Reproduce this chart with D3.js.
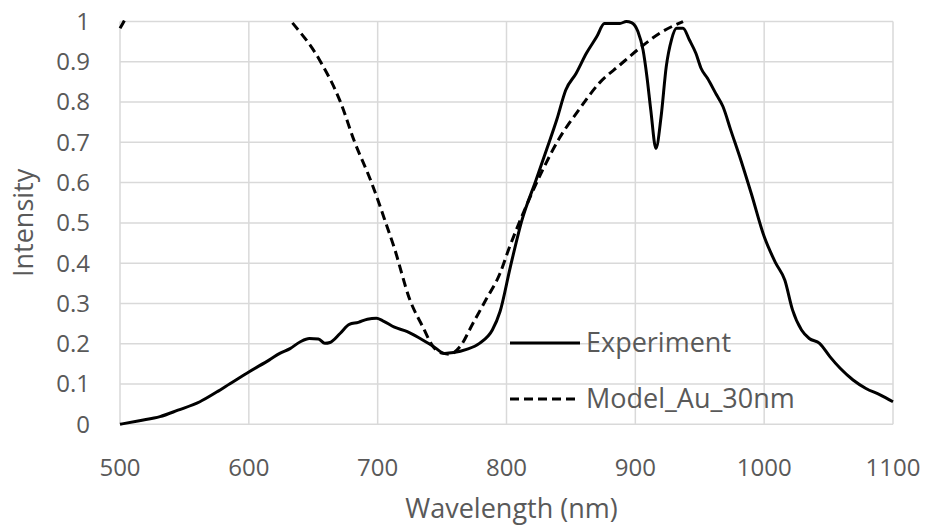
<!DOCTYPE html>
<html><head><meta charset="utf-8">
<script src="https://cdn.jsdelivr.net/npm/d3@7"></script>
<style>body{margin:0;background:#fff}svg{display:block}text{font-family:"Open Sans",sans-serif;fill:#595959}</style>
</head><body><svg id="c" width="929" height="529"></svg>
<script>
const xTicks = [500,600,700,800,900,1000,1100];
const yTicks = [0,0.1,0.2,0.3,0.4,0.5,0.6,0.7,0.8,0.9,1];
const yTickLabels = ["0","0.1","0.2","0.3","0.4","0.5","0.6","0.7","0.8","0.9","1"];
const seriesNames = ["Experiment","Model_Au_30nm"];
const expWavelength = [500,515,531,545,562,575,585,600,616,624,632,640,647,654,659,663,671,678,685,692,699,704,713,723,733,743,752,759,769,779,789,795,803,812,823,831,839,846,854,862,870,876,888,893,897,902,906,909,912,916,920,924,928,932,937,942,947,951,956,963,968,974,982,990,1000,1009,1016,1022,1029,1035,1043,1051,1059,1069,1079,1090,1100];
const expIntensity = [0,0.009,0.019,0.035,0.056,0.08,0.10,0.13,0.16,0.176,0.188,0.205,0.213,0.212,0.201,0.203,0.226,0.248,0.253,0.261,0.263,0.257,0.241,0.230,0.213,0.194,0.176,0.178,0.186,0.201,0.234,0.28,0.391,0.507,0.607,0.681,0.756,0.830,0.871,0.921,0.962,0.995,0.995,1.0,0.997,0.975,0.929,0.863,0.78,0.685,0.764,0.888,0.954,0.983,0.983,0.954,0.921,0.884,0.859,0.818,0.789,0.731,0.655,0.573,0.466,0.40,0.358,0.284,0.234,0.213,0.201,0.168,0.139,0.11,0.089,0.073,0.056];
const modelWavelength = [500,503,510,520,560,600,625,633,655,671,682,695,706,713,725,735,743,751,756,764,774,784,795,802,814,828,841,856,872,888,903,919,937];
const modelIntensity = [0.983,1.0,1.05,1.12,1.2,1.12,1.03,1.0,0.904,0.801,0.702,0.602,0.503,0.437,0.309,0.242,0.193,0.176,0.174,0.193,0.251,0.309,0.375,0.437,0.532,0.631,0.71,0.78,0.847,0.892,0.933,0.971,1.0];

const svg = d3.select("#c");
const L=120, R=893, T=21.5, B=424.3;
const x = d3.scaleLinear().domain([500,1100]).range([L,R]);
const y = d3.scaleLinear().domain([0,1]).range([B,T]);
const grid = "#d9d9d9";

svg.append("g").selectAll("line").data(yTicks).join("line")
  .attr("x1",L).attr("x2",R).attr("y1",d=>y(d)).attr("y2",d=>y(d))
  .attr("stroke",grid).attr("stroke-width",1.5);
svg.append("g").selectAll("line").data(xTicks).join("line")
  .attr("y1",T).attr("y2",B).attr("x1",d=>x(d)).attr("x2",d=>x(d))
  .attr("stroke",grid).attr("stroke-width",1.5);

svg.append("g").selectAll("text").data(yTicks).join("text")
  .attr("x",L-30).attr("y",d=>y(d)).attr("text-anchor","end").attr("dy","0.35em")
  .attr("font-size",24).text((d,i)=>yTickLabels[i]);
svg.append("g").selectAll("text").data(xTicks).join("text")
  .attr("x",d=>x(d)).attr("y",468).attr("text-anchor","middle").attr("dy","0.35em")
  .attr("font-size",24).text(d=>d);

svg.append("text").attr("transform","translate(24,"+((T+B)/2)+") rotate(-90)")
  .attr("text-anchor","middle").attr("dy","0.35em").attr("font-size",27).text("Intensity");
svg.append("text").attr("x",(L+R)/2+5).attr("y",509).attr("text-anchor","middle").attr("dy","0.35em")
  .attr("font-size",27).text("Wavelength (nm)");

svg.append("clipPath").attr("id","clip").append("rect")
  .attr("x",L-3).attr("y",T-1.5).attr("width",R-L+6).attr("height",B-T+5);

const line = d3.line().x(d=>x(d[0])).y(d=>y(d[1])).curve(d3.curveMonotoneX);
const g = svg.append("g").attr("clip-path","url(#clip)");
g.append("path").datum(modelWavelength.map((w,i)=>[w,modelIntensity[i]]))
  .attr("d",line).attr("fill","none").attr("stroke","#000").attr("stroke-width",3)
  .attr("stroke-dasharray","9,5");
g.append("path").datum(expWavelength.map((w,i)=>[w,expIntensity[i]]))
  .attr("d",line).attr("fill","none").attr("stroke","#000").attr("stroke-width",3)
  .attr("stroke-linejoin","round");

const leg = svg.append("g");
const ly = [343,399];
leg.selectAll("line").data(seriesNames).join("line")
  .attr("x1",510).attr("x2",580).attr("y1",(d,i)=>ly[i]).attr("y2",(d,i)=>ly[i])
  .attr("stroke","#000").attr("stroke-width",3)
  .attr("stroke-dasharray",(d,i)=>i?"9,5":null);
leg.selectAll("text").data(seriesNames).join("text")
  .attr("x",586).attr("y",(d,i)=>ly[i]).attr("dy","0.35em").attr("font-size",27).text(d=>d);
</script></body></html>
